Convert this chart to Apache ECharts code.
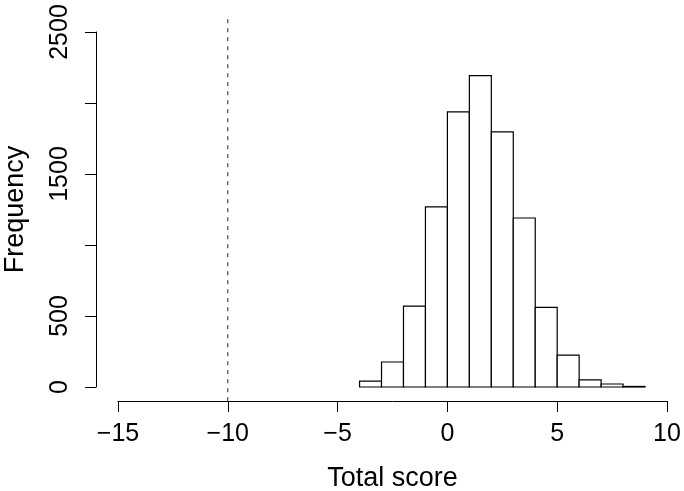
<!DOCTYPE html>
<html>
<head>
<meta charset="utf-8">
<script src="https://cdn.jsdelivr.net/npm/echarts@6/dist/echarts.min.js"></script>
<style>
    html, body { margin: 0; padding: 0; background: #fff; }
    #chart { width: 684px; height: 491px; }
</style>
</head>
<body>
<div id="chart"></div>
<script>
// histogram bins (edges) and counts
const binEdges = [-4, -3, -2, -1, 0, 1, 2, 3, 4, 5, 6, 7, 8, 9];
const counts = [42, 176, 570, 1268, 1937, 2193, 1796, 1190, 561, 225, 50, 21, 4];

const xTicks = [-15, -10, -5, 0, 5, 10];
const yTicks = [0, 500, 1500, 2500];

// dashed reference line, spans the whole plot region
const refLineX = -10;
const plotYRange = [-100, 2600];

const FONT = 'Liberation Sans';

function buildHistData() {
    const data = [];
    counts.forEach((c, i) => {
        data.push([binEdges[i], binEdges[i + 1], c]);
    });
    return data;
}

function renderBar(params, api) {
    const lo = api.coord([api.value(0), 0]);
    const hi = api.coord([api.value(1), api.value(2)]);
    return {
        type: 'rect',
        shape: { x: lo[0], y: hi[1], width: hi[0] - lo[0], height: lo[1] - hi[1] },
        style: { fill: '#fff', stroke: '#000', lineWidth: 1.2 }
    };
}

const chart = echarts.init(document.getElementById('chart'));

const option = {
    animation: false,
    grid: {
        left: 118, right: 17, top: 32, bottom: 104,
        containLabel: false,
        outerBoundsMode: 'none'
    },
    xAxis: {
        type: 'value',
        min: xTicks[0],
        max: xTicks[xTicks.length - 1],
        interval: 5,
        offset: 14,
        name: 'Total score',
        nameLocation: 'middle',
        nameGap: 64,
        nameTextStyle: { fontFamily: FONT, fontSize: 27, color: '#000' },
        axisLine: { onZero: false, lineStyle: { color: '#000', width: 1 } },
        axisTick: { length: 11, lineStyle: { color: '#000' } },
        axisLabel: {
            fontFamily: FONT, fontSize: 25, color: '#000', margin: 21,
            formatter: v => xTicks.includes(v) ? String(v).replace('-', '\u2212') : ''
        },
        splitLine: { show: false }
    },
    yAxis: {
        type: 'value',
        min: 0,
        max: 2500,
        interval: 500,
        offset: 22,
        name: 'Frequency',
        nameLocation: 'middle',
        nameGap: 67,
        nameTextStyle: { fontFamily: FONT, fontSize: 27, color: '#000' },
        axisLine: { show: true, onZero: false, lineStyle: { color: '#000', width: 1 } },
        axisTick: { show: true, length: 11, lineStyle: { color: '#000' } },
        axisLabel: {
            fontFamily: FONT, fontSize: 25, color: '#000', margin: 23, rotate: 90,
            formatter: v => yTicks.includes(v) ? String(v) : ''
        },
        splitLine: { show: false }
    },
    series: [
        {
            type: 'custom',
            renderItem: renderBar,
            encode: { x: [0, 1], y: 2 },
            data: buildHistData(),
            silent: true
        },
        {
            type: 'line',
            data: [[refLineX, plotYRange[0]], [refLineX, plotYRange[1]]],
            clip: false,
            symbol: 'none',
            silent: true,
            lineStyle: { color: '#222', width: 1, type: [4, 5] }
        }
    ]
};

chart.setOption(option);
</script>
</body>
</html>
